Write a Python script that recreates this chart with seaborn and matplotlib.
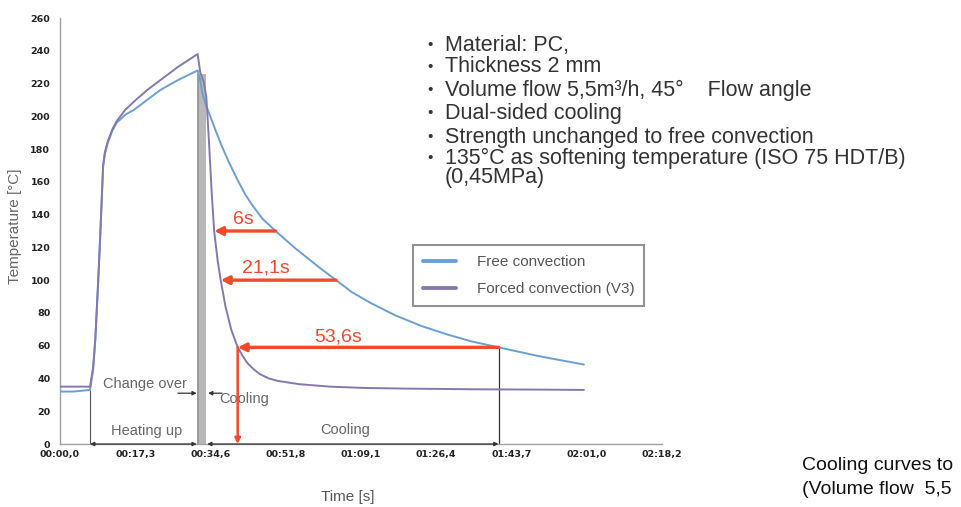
import matplotlib
matplotlib.use('Agg')
import matplotlib.pyplot as plt
import pandas as pd
import seaborn as sns

# free convection curve (time in s, temperature in °C)
free_time = [0, 3, 6.9, 7.6, 8.1, 8.7, 9.2, 9.9, 10.3, 11, 12, 13, 15, 17, 20, 23, 27, 31.6,
             32.2, 32.7, 33.5, 34.5, 35.7, 37.2, 38.7, 40.6, 42.6, 44.5, 46.5, 49.5, 54, 59.9,
             63.4, 67, 71.4, 77, 83, 89, 94.5, 100.7, 110, 120.3]
free_temp = [32, 32, 33, 45, 63, 95, 124, 169, 177, 184, 191, 196, 201, 204, 210, 216, 222, 228,
             222, 214, 207, 200, 191.5, 181.5, 172.5, 162, 152, 144.5, 137.5, 130, 119.5, 107,
             100, 92.7, 86, 78.5, 72, 66.8, 62.6, 59, 53.6, 48.5]

# forced convection curve
forced_time = [0, 3, 6.9, 7.6, 8.1, 8.7, 9.2, 9.9, 10.3, 11, 12, 13, 15, 17, 20, 23, 27, 31.6,
               32.2, 33.0, 33.6, 34.2, 34.8, 35.4, 36.2, 36.9, 38.0, 39.3, 40.8, 42, 43, 44.5,
               46, 48, 50, 55, 62, 70, 80, 95, 110, 120.3]
forced_temp = [35, 35, 35, 47, 64, 96, 125, 170, 178, 185, 192, 197, 204, 209, 216, 222, 230, 238,
               227, 221, 212, 185, 155, 130, 112, 100, 84, 70, 59, 53.5, 49.5, 45.5,
               42.5, 40, 38.5, 36.5, 35, 34.2, 33.8, 33.4, 33.2, 33]

series_names = ['Free convection', 'Forced convection (V3)']
series_colors = ['#6b9fd2', '#8578ad']

# cooling time arrows
arrow_temp = [130, 100, 59]
arrow_free_t = [49.5, 63.4, 100.7]
arrow_forced_t = [35.4, 36.9, 40.8]
arrow_labels = ['6s', '21,1s', '53,6s']
label_pos = [(42.2, 137), (47.2, 107.5), (63.8, 65)]

x_tick_pos = [i * 17.28 for i in range(9)]
x_tick_labels = ['00:00,0', '00:17,3', '00:34,6', '00:51,8', '01:09,1',
                 '01:26,4', '01:43,7', '02:01,0', '02:18,2']

info_lines = ['Material: PC,', 'Thickness 2 mm', 'Volume flow 5,5m³/h, 45°    Flow angle',
              'Dual-sided cooling', 'Strength unchanged to free convection',
              '135°C as softening temperature (ISO 75 HDT/B)', '(0,45MPa)']

df = pd.concat([
    pd.DataFrame({'time': free_time, 'temp': free_temp, 'series': series_names[0]}),
    pd.DataFrame({'time': forced_time, 'temp': forced_temp, 'series': series_names[1]}),
])

sns.set_theme(style='white')
plt.rcParams['font.family'] = ['Liberation Sans', 'DejaVu Sans']

W, H = 962, 507
fig = plt.figure(figsize=(W / 100, H / 100), dpi=100)
ax = fig.add_axes([60 / W, 1 - 444 / H, 602 / W, 426 / H])

red = '#f04a2a'
dark = '#333333'
grey_txt = '#666666'

# change-over band
ax.axvspan(31.6, 33.5, ymax=226 / 260, color='#b8b8b8', lw=0, zorder=1)
ax.vlines(31.8, 0, 226, color='#8e8e8e', lw=1.2, zorder=1)

sns.lineplot(data=df, x='time', y='temp', hue='series', palette=series_colors,
             sort=False, estimator=None, linewidth=1.4, ax=ax, zorder=3)

# dimension lines
ax.vlines(6.9, 0, 33, color='#555555', lw=0.8, zorder=2)
ax.vlines(100.7, 0, 59, color=dark, lw=0.9, zorder=2)
dim = dict(arrowstyle='<|-|>', color=dark, lw=0.9, mutation_scale=6, shrinkA=0, shrinkB=0)
ax.annotate('', xy=(6.9, 0), xytext=(31.4, 0), arrowprops=dim, zorder=4)
ax.annotate('', xy=(33.8, 0), xytext=(100.7, 0), arrowprops=dim, zorder=4)
one = dict(arrowstyle='-|>', color=dark, lw=0.9, mutation_scale=6, shrinkA=0, shrinkB=0)
ax.annotate('', xy=(31.4, 31), xytext=(27.1, 31), arrowprops=one, zorder=4)
ax.annotate('', xy=(34.0, 31), xytext=(37.2, 31), arrowprops=one, zorder=4)

ax.text(19.6, 36.6, 'Change over', ha='center', va='center', fontsize=10.5, color=grey_txt)
ax.text(42.4, 27.5, 'Cooling', ha='center', va='center', fontsize=10.5, color=grey_txt)
ax.text(20, 8, 'Heating up', ha='center', va='center', fontsize=10.5, color=grey_txt)
ax.text(65.4, 8.5, 'Cooling', ha='center', va='center', fontsize=10.5, color=grey_txt)

# red cooling-time arrows
for T, tf, tc, lab, (lx, ly) in zip(arrow_temp, arrow_free_t, arrow_forced_t, arrow_labels, label_pos):
    ax.annotate('', xy=(tc, T), xytext=(tf, T),
                arrowprops=dict(arrowstyle='-|>', color=red, lw=2.4, mutation_scale=12,
                                shrinkA=0, shrinkB=0), zorder=5)
    ax.text(lx, ly, lab, ha='center', va='center', fontsize=14, color=red, zorder=5)
ax.annotate('', xy=(arrow_forced_t[2], 0), xytext=(arrow_forced_t[2], arrow_temp[2]),
            arrowprops=dict(arrowstyle='-|>', color=red, lw=1.8, mutation_scale=8,
                            shrinkA=0, shrinkB=0), zorder=5)

ax.set_xlim(0, 138.24)
ax.set_ylim(0, 260)
ax.set_xticks(x_tick_pos)
ax.set_xticklabels(x_tick_labels)
ax.set_yticks(range(0, 261, 20))
ax.tick_params(axis='both', direction='in', length=3, color='#999999', labelsize=6.8,
               labelcolor='#222222')
ax.tick_params(axis='y', pad=7)
ax.tick_params(axis='x', pad=4)
for lab in ax.get_xticklabels() + ax.get_yticklabels():
    lab.set_fontfamily('DejaVu Sans')
    lab.set_fontweight('bold')
ax.set_xlabel('')
ax.set_ylabel('')
sns.despine(ax=ax)
for s in ['left', 'bottom']:
    ax.spines[s].set_color('#a0a0a0')
    ax.spines[s].set_linewidth(1.0)

leg = ax.legend(loc='upper left', bbox_to_anchor=(0.586, 0.467), borderaxespad=0,
                frameon=True, fancybox=False, edgecolor='#777777', fontsize=11,
                handlelength=2.15, handletextpad=1.4, labelspacing=0.85, borderpad=0.65,
                title=None)
leg.get_frame().set_linewidth(1.5)
for line in leg.get_lines():
    line.set_linewidth(2.8)
for t in leg.get_texts():
    t.set_color('#555555')

fig.text(15 / W, 1 - 226 / H, 'Temperature [°C]', rotation=90, ha='center', va='center',
         fontsize=11, color='#666666')
fig.text(348 / W, 1 - 497 / H, 'Time [s]', ha='center', va='center', fontsize=11, color='#555555')

# parameter list
line_y = [45, 67, 90, 113, 137, 158, 178]
for i, (txt, y) in enumerate(zip(info_lines, line_y)):
    if i < 6:
        fig.text(430 / W, 1 - y / H, '•', ha='center', va='center', fontsize=11, color=dark)
    fig.text(445 / W, 1 - y / H, txt, ha='left', va='center', fontsize=15.5, color=dark)

fig.text(802 / W, 1 - 466 / H, 'Cooling curves to', ha='left', va='center', fontsize=14, color='#111111')
fig.text(802 / W, 1 - 490 / H, '(Volume flow  5,5', ha='left', va='center', fontsize=14, color='#111111')

fig.savefig('out.png', dpi=100)
